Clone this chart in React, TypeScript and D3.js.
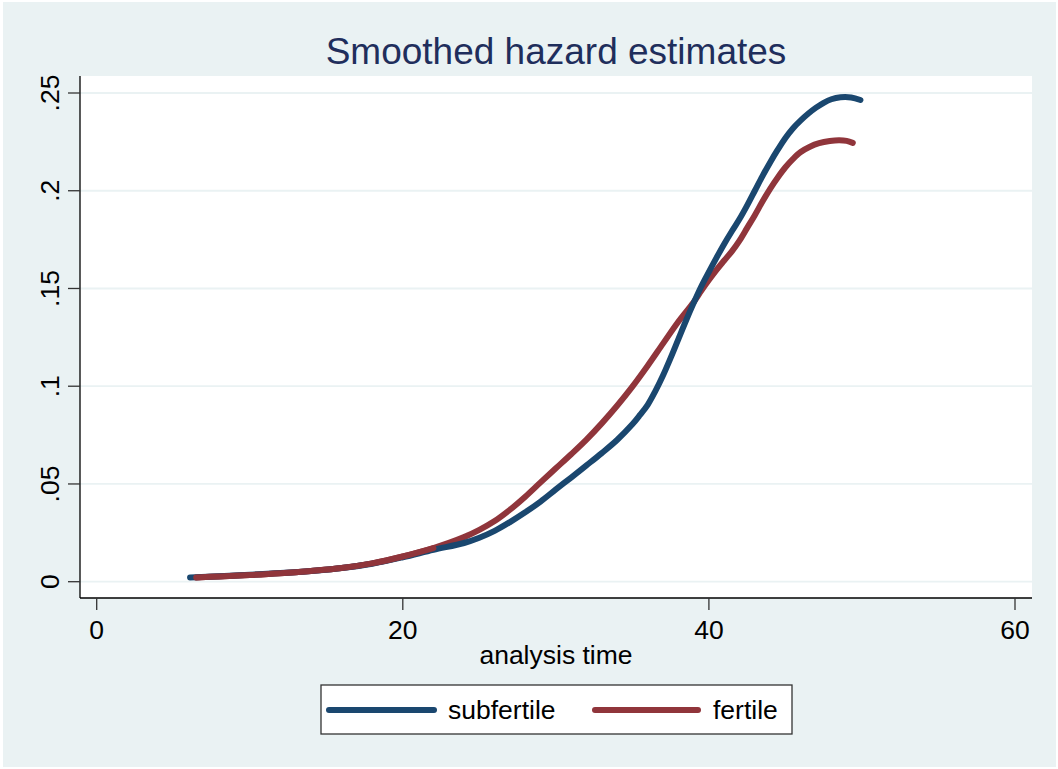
import React from "react";
import * as d3 from "d3";

const subT = [6.1, 8, 10, 12, 14, 16, 18, 20, 22, 24, 25, 26, 27, 28, 29, 30, 31, 32, 33, 34, 35, 35.5, 36, 36.5, 37, 37.5, 38, 38.5, 39, 39.5, 40, 40.5, 41, 41.5, 42, 42.5, 43, 43.5, 44, 44.5, 45, 45.5, 46, 46.5, 47, 47.5, 48, 48.6, 49.3, 49.9];
const subV = [0.0022, 0.0028, 0.0035, 0.0044, 0.0055, 0.007, 0.0092, 0.0125, 0.0163, 0.0198, 0.0225, 0.026, 0.0305, 0.0355, 0.041, 0.0472, 0.0533, 0.0595, 0.0658, 0.0725, 0.0805, 0.0853, 0.0905, 0.0975, 0.1055, 0.1145, 0.124, 0.1335, 0.1425, 0.151, 0.1585, 0.1658, 0.1728, 0.1793, 0.1855, 0.1925, 0.2, 0.2075, 0.2145, 0.221, 0.227, 0.232, 0.236, 0.2395, 0.2425, 0.245, 0.2468, 0.2478, 0.2477, 0.2464];

const ferT = [6.5, 8, 10, 12, 14, 16, 18, 20, 22, 24, 25, 26, 27, 28, 29, 30, 31, 32, 33, 34, 35, 36, 37, 38, 39, 39.5, 40, 40.5, 41, 41.5, 42, 42.5, 43, 43.5, 44, 44.5, 45, 45.5, 46, 46.6, 47.2, 47.9, 48.5, 49, 49.4];
const ferV = [0.0022, 0.0027, 0.0034, 0.0043, 0.0055, 0.007, 0.0094, 0.0129, 0.0172, 0.0228, 0.0265, 0.031, 0.0368, 0.0435, 0.0508, 0.058, 0.0652, 0.0727, 0.081, 0.09, 0.0998, 0.1105, 0.1218, 0.133, 0.143, 0.1488, 0.1543, 0.1595, 0.1643, 0.169, 0.1745, 0.181, 0.1875, 0.1945, 0.201, 0.2068, 0.212, 0.2163, 0.2198, 0.2225, 0.2243, 0.2254, 0.2258, 0.2255, 0.2245];

const xTicks = [0, 20, 40, 60];
const yTicks = [0, 0.05, 0.1, 0.15, 0.2, 0.25];
const yTickLabels = ["0", ".05", ".1", ".15", ".2", ".25"];
const seriesNames = ["subfertile", "fertile"];
const seriesColors = ["#1a476f", "#90353b"];

const FONT = "'Liberation Sans', Arial, Helvetica, sans-serif";

export default function App() {
  const W = 1058, H = 769;
  const plot = { l: 80, r: 1032, t: 76, b: 598 };
  const x = d3.scaleLinear().domain([0, 60]).range([96.7, 1015]);
  const y = d3.scaleLinear().domain([0, 0.25]).range([581.7, 93]);
  const line = d3
    .line<[number, number]>()
    .x((d) => x(d[0]))
    .y((d) => y(d[1]))
    .curve(d3.curveCatmullRom.alpha(0.5));
  const sub = subT.map((t, i) => [t, subV[i]] as [number, number]);
  const fer = ferT.map((t, i) => [t, ferV[i]] as [number, number]);

  return (
    <svg width={W} height={H} style={{ position: "absolute", left: 0, top: 0 }} fontFamily={FONT}>
      <rect x={0} y={0} width={W} height={H} fill="#ffffff" />
      <rect x={3} y={2} width={W - 5} height={H - 4} fill="#eaf2f3" />
      <rect x={plot.l} y={plot.t} width={plot.r - plot.l} height={plot.b - plot.t} fill="#ffffff" />
      {yTicks.map((v) => (
        <line key={"g" + v} x1={plot.l} x2={plot.r} y1={y(v)} y2={y(v)} stroke="#eaf2f3" strokeWidth={1.8} />
      ))}
      <path d={line(fer) || ""} fill="none" stroke={seriesColors[1]} strokeWidth={6} strokeLinecap="round" strokeLinejoin="round" />
      <path d={line(sub) || ""} fill="none" stroke={seriesColors[0]} strokeWidth={6} strokeLinecap="round" strokeLinejoin="round" />
      <path d={line(fer.filter((d) => d[0] < 23)) || ""} fill="none" stroke={seriesColors[1]} strokeWidth={6} strokeLinecap="round" strokeLinejoin="round" />
      <line x1={plot.l} x2={plot.l} y1={plot.t} y2={plot.b} stroke="#000" strokeWidth={1.3} />
      <line x1={plot.l} x2={plot.r} y1={plot.b} y2={plot.b} stroke="#000" strokeWidth={1.3} />
      {yTicks.map((v, i) => (
        <g key={"y" + v}>
          <line x1={plot.l - 12} x2={plot.l} y1={y(v)} y2={y(v)} stroke="#333" strokeWidth={1.3} />
          <text
            transform={`translate(59,${y(v)}) rotate(-90)`}
            textAnchor="middle"
            fontSize={26.5}
            fill="#000"
          >
            {yTickLabels[i]}
          </text>
        </g>
      ))}
      {xTicks.map((v) => (
        <g key={"x" + v}>
          <line x1={x(v)} x2={x(v)} y1={plot.b} y2={plot.b + 12} stroke="#333" strokeWidth={1.3} />
          <text x={x(v)} y={639} textAnchor="middle" fontSize={26.5} fill="#000">
            {v}
          </text>
        </g>
      ))}
      <text x={(plot.l + plot.r) / 2} y={664} textAnchor="middle" fontSize={26.5} fill="#000">
        analysis time
      </text>
      <text x={556} y={64} textAnchor="middle" fontSize={37} fill="#1f2e5c">
        Smoothed hazard estimates
      </text>
      <rect x={321} y={685} width={471} height={49} fill="#ffffff" stroke="#333" strokeWidth={1.3} />
      <line x1={329} x2={434} y1={710} y2={710} stroke={seriesColors[0]} strokeWidth={6} strokeLinecap="round" />
      <text x={448} y={719} fontSize={26.5} fill="#000">{seriesNames[0]}</text>
      <line x1={595} x2={698} y1={710} y2={710} stroke={seriesColors[1]} strokeWidth={6} strokeLinecap="round" />
      <text x={713} y={719} fontSize={26.5} fill="#000">{seriesNames[1]}</text>
    </svg>
  );
}
